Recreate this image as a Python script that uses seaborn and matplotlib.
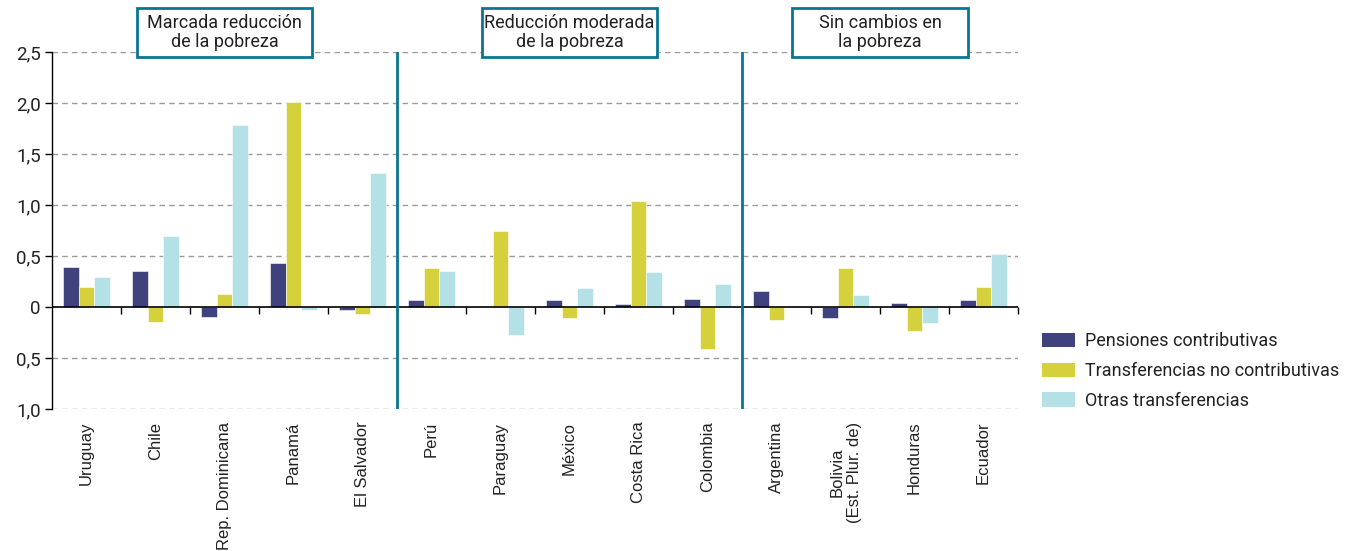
import matplotlib
matplotlib.use("Agg")
import matplotlib.pyplot as plt
import matplotlib.transforms as mtransforms
from matplotlib.patches import Rectangle
import numpy as np
import pandas as pd
import seaborn as sns

# ── Data ──────────────────────────────────────────────────────────────────────
countries = [
    "Uruguay", "Chile", "Rep. Dominicana", "Panamá", "El Salvador",
    "Perú", "Paraguay", "México", "Costa Rica", "Colombia",
    "Argentina", "Bolivia\n(Est. Plur. de)", "Honduras", "Ecuador",
]
pensiones      = [0.39, 0.35, -0.10, 0.43, -0.03, 0.07, 0.00, 0.07, 0.03, 0.08, 0.16, -0.11, 0.04, 0.07]
no_contrib     = [0.20, -0.15, 0.13, 2.01, -0.07, 0.38, 0.745, -0.11, 1.04, -0.41, -0.125, 0.38, -0.24, 0.20]
otras          = [0.29, 0.70, 1.78, -0.03, 1.31, 0.35, -0.27, 0.19, 0.34, 0.225, 0.00, 0.12, -0.16, 0.52]
series_names   = ["Pensiones contributivas", "Transferencias no contributivas", "Otras transferencias"]
group_titles   = ["Marcada reducción\nde la pobreza", "Reducción moderada\nde la pobreza", "Sin cambios en\nla pobreza"]
group_sizes    = [5, 5, 4]
yticks         = [2.5, 2.0, 1.5, 1.0, 0.5, 0.0, -0.5, -1.0]
ytick_labels   = ["2,5", "2,0", "1,5", "1,0", "0,5", "0", "0,5", "1,0"]

colors = ["#40427E", "#D4D13C", "#B3E1E5"]
teal   = "#0A7492"

df = pd.DataFrame({
    "pais" : countries * 3,
    "serie": np.repeat(series_names, len(countries)),
    "valor": pensiones + no_contrib + otras,
})

# ── Plot ──────────────────────────────────────────────────────────────────────
sns.set_theme(style="white")
cond = ["Liberation Sans Narrow", "Roboto", "DejaVu Sans"]
plt.rcParams["font.family"] = ["Liberation Sans", "DejaVu Sans"]

fig = plt.figure(figsize=(13.5, 5.51), dpi=100)
ax = fig.add_axes([0.0385, 0.2577, 0.7156, 0.648])

sns.barplot(
    data=df, x="pais", y="valor", hue="serie", order=countries,
    hue_order=series_names, palette=colors, saturation=1, width=0.67,
    edgecolor="white", linewidth=0.4, ax=ax, zorder=3,
)

n = len(countries)
ax.set_xlim(-0.5, n - 0.5)
ax.set_ylim(-1.0, 2.5)
ax.set_yticks(yticks)
ax.set_yticklabels(ytick_labels, family=cond, fontsize=13.5, color="#222222")
ax.set_xlabel("")
ax.set_ylabel("")

# dashed grid
for y in yticks:
    if y != 0:
        ax.axhline(y, color="#9a9a9a", lw=1, ls=(0, (4, 3)), zorder=1)

for s in ["top", "right", "bottom"]:
    ax.spines[s].set_visible(False)
ax.spines["left"].set_color("black")
ax.spines["left"].set_linewidth(1)
ax.tick_params(axis="y", direction="out", length=5, width=1, color="black", pad=3, left=True)

# country labels at bottom
ax.set_xticks(range(n))
ax.set_xticklabels(countries, rotation=90, fontsize=12, va="top", ha="center",
                   multialignment="center", color="#222222")
ax.tick_params(axis="x", length=0, pad=9)

# zero axis with boundary ticks
ax.axhline(0, color="black", lw=1.2, zorder=4)
zero_pos = (0 - (-1.0)) / 3.5
sec = ax.secondary_xaxis(zero_pos)
sec.set_xticks(np.arange(n) + 0.5)
sec.set_xticklabels([])
sec.tick_params(direction="out", length=5, width=1, color="black")
sec.spines["bottom"].set_visible(False)

# group separators and titles
trans = mtransforms.blended_transform_factory(ax.transData, ax.transAxes)
edges = np.cumsum([0] + group_sizes) - 0.5
for x in edges[1:-1]:
    ax.axvline(x, ymin=0, ymax=1, color=teal, lw=2, zorder=5)
box_w = 2.55
for i, title in enumerate(group_titles):
    cx = (edges[i] + edges[i + 1]) / 2
    ax.add_patch(Rectangle((cx - box_w / 2, 0.986), box_w, 0.137, transform=trans,
                           fc="white", ec=teal, lw=2, clip_on=False, zorder=6))
    ax.text(cx, 1.054, title, transform=trans, ha="center", va="center",
            fontsize=13, family=cond, linespacing=1.05, zorder=7, color="#222222")

# legend
leg = ax.legend(
    loc="upper left", bbox_to_anchor=(0.772, 0.397), bbox_transform=fig.transFigure,
    frameon=False, prop={"family": cond, "size": 13},
    borderaxespad=0, borderpad=0,
    handlelength=1.8, handleheight=0.85, handletextpad=0.55, labelspacing=0.65,
)
for h in leg.legend_handles:
    h.set_edgecolor("none")
for t in leg.get_texts():
    t.set_color("#222222")

fig.savefig("out.png", dpi=100, facecolor="white")
